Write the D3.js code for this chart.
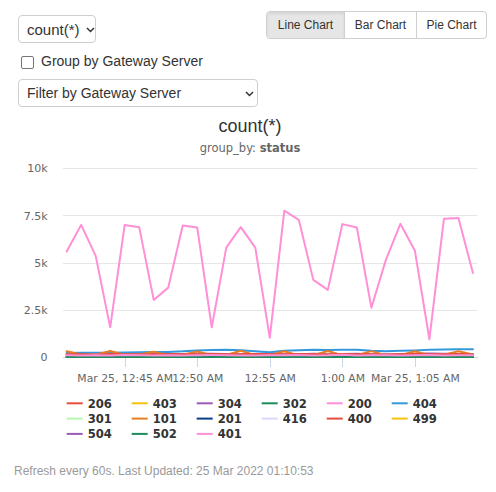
<!DOCTYPE html>
<html>
<head>
<meta charset="utf-8">
<script src="https://cdn.jsdelivr.net/npm/d3@7"></script>
<style>
  html, body { margin: 0; padding: 0; background: #fff; }
  body { width: 496px; height: 492px; position: relative; overflow: hidden;
         font-family: "Liberation Sans", Arial, Helvetica, sans-serif; color: #333; }
  .sel { position: absolute; box-sizing: border-box; border: 1px solid #cfcfcf; border-radius: 4px;
         background: #fff; color: #333; }
  .sel span { position: absolute; left: 8px; white-space: nowrap; }
  .sel svg { position: absolute; }
  #btns { position: absolute; left: 266px; top: 11px; width: 221px; height: 28px; box-sizing: border-box;
          border: 1px solid #cfcfcf; border-radius: 4px; display: flex; overflow: hidden; }
  #btns div { font-size: 12px; color: #333; display: flex; align-items: center; justify-content: center;
              box-sizing: border-box; height: 100%; }
  #btns div.active { background: #e6e6e6; box-shadow: inset 0 2px 3px rgba(0,0,0,0.08); }
  #btns div + div { border-left: 1px solid #cfcfcf; }
  #chk { position: absolute; left: 21px; top: 56px; width: 13px; height: 13px; box-sizing: border-box;
         border: 1px solid #767676; border-radius: 2px; background: #fff; }
  #chklabel { position: absolute; left: 41px; top: 53px; font-size: 14px; color: #333; }
  #footer { position: absolute; left: 14px; top: 464px; font-size: 12px; color: #999; white-space: nowrap; }
  svg#chart { position: absolute; left: 0; top: 0; }
</style>
</head>
<body>
<div class="sel" id="metricSel" style="left:18px;top:15px;width:78px;height:28px;">
  <span style="font-size:15px;top:5px;">count(*)</span>
  <svg width="9" height="6" style="left:67px;top:11px;"><path d="M1,1 L4.5,4.5 L8,1" fill="none" stroke="#333" stroke-width="1.5"/></svg>
</div>
<div id="btns">
  <div class="active" style="width:77px;">Line Chart</div>
  <div style="width:72px;">Bar Chart</div>
  <div style="flex:1;">Pie Chart</div>
</div>
<div id="chk"></div>
<div id="chklabel">Group by Gateway Server</div>
<div class="sel" id="filterSel" style="left:18px;top:79px;width:240px;height:28px;">
  <span style="font-size:14px;top:5px;">Filter by Gateway Server</span>
  <svg width="9" height="6" style="left:226px;top:11px;"><path d="M1,1 L4.5,4.5 L8,1" fill="none" stroke="#333" stroke-width="1.5"/></svg>
</div>
<svg id="chart" width="496" height="492"></svg>
<div id="footer">Refresh every 60s. Last Updated: 25 Mar 2022 01:10:53</div>

<script>
// ---------- DATA ----------
const times = ["2022-03-25T00:41","2022-03-25T00:42","2022-03-25T00:43","2022-03-25T00:44","2022-03-25T00:45",
  "2022-03-25T00:46","2022-03-25T00:47","2022-03-25T00:48","2022-03-25T00:49","2022-03-25T00:50",
  "2022-03-25T00:51","2022-03-25T00:52","2022-03-25T00:53","2022-03-25T00:54","2022-03-25T00:55",
  "2022-03-25T00:56","2022-03-25T00:57","2022-03-25T00:58","2022-03-25T00:59","2022-03-25T01:00",
  "2022-03-25T01:01","2022-03-25T01:02","2022-03-25T01:03","2022-03-25T01:04","2022-03-25T01:05",
  "2022-03-25T01:06","2022-03-25T01:07","2022-03-25T01:08","2022-03-25T01:09"];

const seriesNames = ["206","403","304","302","200","404","301","101","201","416","400","499","504","502","401"];
const seriesColors = ["#e74c3c","#f1c40f","#9b59b6","#1e8b5c","#ff8fd6","#3498db","#b9f5b0","#e67e22","#0b3d86","#dcd6fa","#e74c3c","#f1c40f","#9b59b6","#1e8b5c","#ff8fd6"];

const s206 = [60,70,55,80,65,60,75,70,55,60,80,70,65,60,75,70,60,65,80,70,60,75,65,70,60,80,75,65,70];
const s403 = [20,25,18,22,30,20,25,18,24,20,28,22,20,25,18,22,26,20,24,20,22,25,18,20,24,22,26,20,22];
const s304 = [150,160,140,170,155,150,165,145,160,170,175,160,150,165,180,160,150,170,165,160,175,150,145,160,170,180,175,165,160];
const s302 = [15,12,18,14,16,12,15,18,14,12,16,15,13,17,14,12,16,15,14,13,15,17,12,14,16,15,13,14,15];
const s200 = [5580,6990,5350,1570,6990,6870,3020,3670,6960,6850,1570,5790,6870,5790,1020,7740,7260,4080,3550,7030,6850,2610,5140,7050,5620,940,7310,7350,4440];
const s404 = [210,220,230,220,240,250,260,270,300,350,370,380,360,300,250,330,360,380,370,380,390,330,300,330,350,380,400,410,410];
const s301 = [70,60,75,65,80,70,60,75,70,65,80,75,70,60,75,70,65,80,70,75,60,70,80,75,65,70,75,60,70];
const s101 = [300,130,120,320,110,130,280,90,120,290,100,110,330,100,110,300,80,100,320,90,100,310,100,90,300,100,120,300,130];
const s201 = [30,25,35,30,20,35,30,25,30,35,25,30,20,30,35,25,30,35,30,25,30,20,35,30,25,30,35,30,25];
const s416 = [120,110,130,115,125,120,110,135,120,115,130,125,120,110,125,130,120,115,140,125,110,120,130,125,115,120,130,125,120];
const s400 = [140,150,130,160,145,150,135,155,140,150,165,145,140,155,150,145,160,150,140,155,150,145,135,150,160,145,150,155,140];
const s499 = [10,8,12,9,11,10,8,12,10,9,11,10,12,8,10,11,9,10,12,10,8,11,10,9,12,10,11,9,10];
const s504 = [5,6,4,5,7,5,6,4,5,6,5,4,6,5,7,5,4,6,5,5,6,4,5,7,5,6,4,5,6];
const s502 = [4,5,6,4,5,3,5,6,4,5,4,6,5,4,5,6,4,5,3,5,6,4,5,4,6,5,4,5,4];
const s401 = [90,80,95,85,100,90,80,95,85,90,100,95,85,80,90,95,100,85,90,120,80,90,95,85,90,100,85,90,95];
const seriesValues = [s206,s403,s304,s302,s200,s404,s301,s101,s201,s416,s400,s499,s504,s502,s401];

const yTicks = [0, 2500, 5000, 7500, 10000];
const yTickLabels = ["0", "2.5k", "5k", "7.5k", "10k"];
const xTicks = ["2022-03-25T00:45","2022-03-25T00:50","2022-03-25T00:55","2022-03-25T01:00","2022-03-25T01:05"];
const xTickLabels = ["Mar 25, 12:45 AM","12:50 AM","12:55 AM","1:00 AM","Mar 25, 1:05 AM"];

const chartTitle = "count(*)";
const subtitleLabel = "group_by: ";
const subtitleValue = "status";

// ---------- CHART ----------
const svg = d3.select("#chart");
const plot = { left: 62.6, right: 477, top: 168, bottom: 357 };
const tDates = times.map(t => new Date(t));
const t0 = tDates[0], t1 = tDates[tDates.length - 1];
const padMs = (t1 - t0) * 0.01;

const x = d3.scaleTime()
  .domain([new Date(+t0 - padMs), new Date(+t1 + padMs)])
  .range([plot.left, plot.right]);
const y = d3.scaleLinear().domain([0, 10000]).range([plot.bottom, plot.top]);

const axisFont = "'DejaVu Sans', 'Lucida Grande', Verdana, sans-serif";

// title
svg.append("text").attr("x", 250).attr("y", 132).attr("text-anchor", "middle")
  .style("font-family", "'Liberation Sans', Arial, sans-serif").style("font-size", "18px")
  .style("fill", "#333").text(chartTitle);
const sub = svg.append("text").attr("x", 250).attr("y", 152).attr("text-anchor", "middle")
  .style("font-family", axisFont).style("font-size", "11.5px").style("fill", "#666");
sub.append("tspan").text(subtitleLabel);
sub.append("tspan").style("font-weight", "bold").text(subtitleValue);

// y axis (gridlines + labels)
const yAxis = d3.axisLeft(y).tickValues(yTicks)
  .tickFormat((d, i) => yTickLabels[i])
  .tickSize(-(plot.right - plot.left)).tickPadding(15);
const yg = svg.append("g").attr("transform", `translate(${plot.left},0)`).call(yAxis);
yg.select(".domain").remove();
yg.selectAll(".tick line").attr("stroke", "#e6e6e6").attr("shape-rendering", "crispEdges");
yg.selectAll(".tick text").style("font-family", axisFont).style("font-size", "11px")
  .style("fill", "#666").attr("dy", "0.34em");

// x axis
const xAxis = d3.axisBottom(x).tickValues(xTicks.map(t => new Date(t)))
  .tickFormat((d, i) => xTickLabels[i]).tickSize(10).tickSizeOuter(0).tickPadding(7);
const xg = svg.append("g").attr("transform", `translate(0,${plot.bottom})`).call(xAxis);
xg.select(".domain").attr("stroke", "#ccd6eb").attr("shape-rendering", "crispEdges");
xg.selectAll(".tick line").attr("stroke", "#ccd6eb").attr("shape-rendering", "crispEdges");
xg.selectAll(".tick text").style("font-family", axisFont).style("font-size", "10.8px").style("fill", "#666");

// lines
const line = d3.line().x((d, i) => x(tDates[i])).y(d => y(d)).curve(d3.curveLinear);
const lg = svg.append("g");
seriesValues.forEach((vals, k) => {
  lg.append("path").datum(vals).attr("d", line)
    .attr("fill", "none").attr("stroke", seriesColors[k]).attr("stroke-width", 2)
    .attr("stroke-linejoin", "round").attr("stroke-linecap", "round");
});

// legend
const legend = svg.append("g");
const colW = 65, rowH = 15.3, perRow = 6, legX = 66.7, legY = 403.3;
seriesNames.forEach((name, k) => {
  const cx = legX + (k % perRow) * colW;
  const cy = legY + Math.floor(k / perRow) * rowH;
  const g = legend.append("g").attr("transform", `translate(${cx},${cy})`);
  g.append("line").attr("x1", 0).attr("x2", 16).attr("y1", 0).attr("y2", 0)
    .attr("stroke", seriesColors[k]).attr("stroke-width", 2);
  g.append("text").attr("x", 21).attr("y", 4.5)
    .style("font-family", axisFont).style("font-size", "11.6px").style("font-weight", "bold")
    .style("fill", "#333").text(name);
});
</script>
</body>
</html>
